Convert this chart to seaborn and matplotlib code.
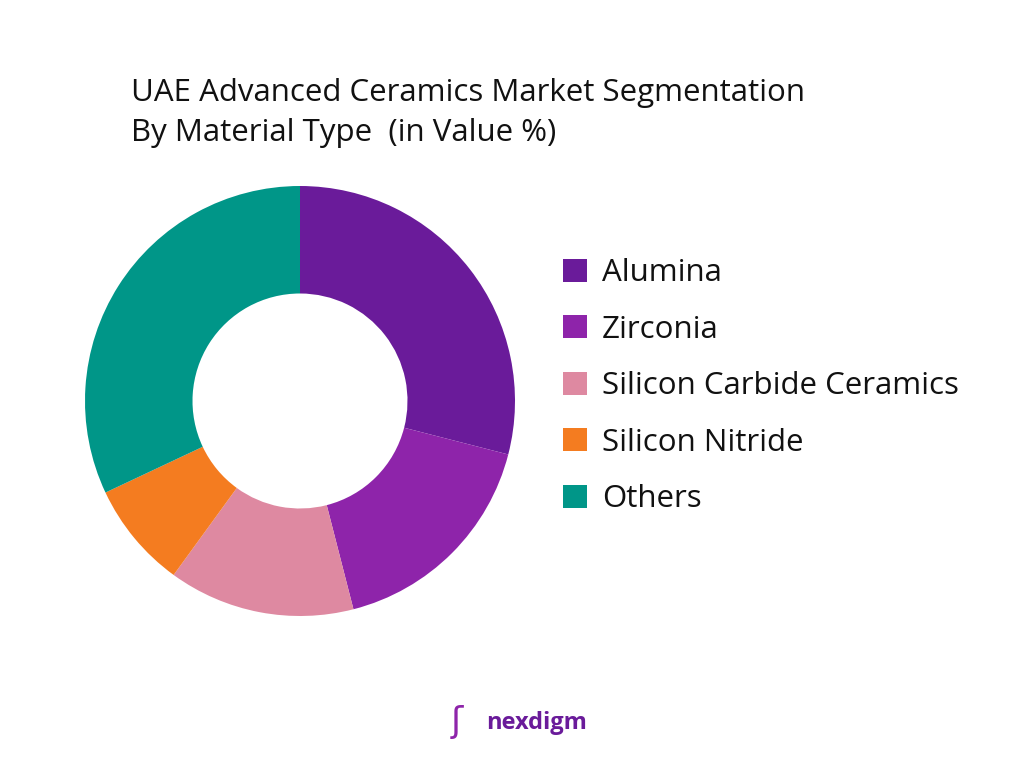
import matplotlib
matplotlib.use('Agg')
import matplotlib.pyplot as plt
import seaborn as sns
from matplotlib.patches import Patch

# ========== PODACI ==========
segments = ['Alumina', 'Zirconia', 'Silicon Carbide Ceramics', 'Silicon Nitride', 'Others']
shares = [29, 17, 14, 8, 32]
colors = ['#6A1B9A', '#8E24AA', '#DE89A1', '#F47C20', '#009688']

sns.set_theme(style='white')
plt.rcParams['font.family'] = ['Open Sans', 'DejaVu Sans']

fig = plt.figure(figsize=(10.24, 7.68), dpi=100)
fig.patch.set_facecolor('white')

# ========== DONUT ==========
ax = fig.add_axes([85 / 1024, 152 / 768, 430 / 1024, 430 / 768])
palette = sns.color_palette(colors)
ax.pie(shares, colors=palette, startangle=90, counterclock=False,
       wedgeprops=dict(width=0.5, edgecolor='none'))
ax.set_aspect('equal')
ax.set_xlim(-1, 1)
ax.set_ylim(-1, 1)
ax.axis('off')

# ========== NASLOV ==========
fig.text(131 / 1024, 1 - 93 / 768, 'UAE Advanced Ceramics Market Segmentation',
         fontsize=22.5, va='center', ha='left', color='#111111')
fig.text(131 / 1024, 1 - 133 / 768, 'By Material Type  (in Value %)',
         fontsize=22.5, va='center', ha='left', color='#111111')

# ========== LEGENDA ==========
handles = [Patch(facecolor=c, edgecolor='none') for c in palette]
fig.legend(handles, segments, loc='upper left', bbox_to_anchor=(535 / 1024, 1 - 230 / 768),
           frameon=False, fontsize=22.5, handlelength=0.75, handleheight=0.75,
           labelspacing=0.85, handletextpad=0.5, labelcolor='#111111')

# ========== LOGO ==========
fig.text(486 / 1024, 1 - 723 / 768, 'nexdigm', fontsize=17, fontweight='bold',
         color='#6A1B9A', va='center', ha='left')
fig.text(457 / 1024, 1 - 723 / 768, 'ʃ', fontsize=26, color='#8E24AA',
         va='center', ha='center')

fig.savefig('out.png', dpi=100, facecolor='white')
